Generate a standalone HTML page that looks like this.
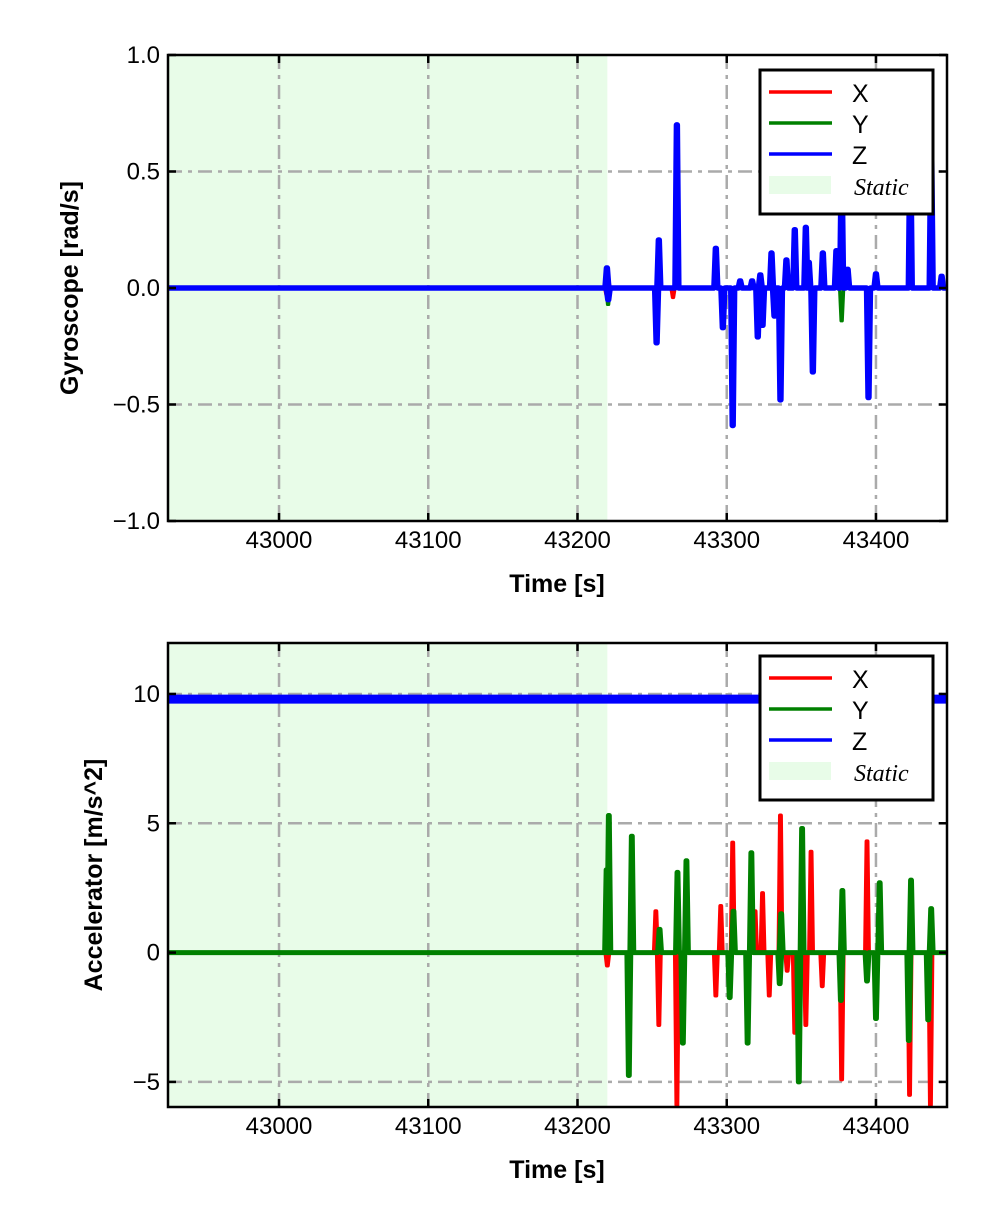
<!DOCTYPE html>
<html><head><meta charset="utf-8"><style>
body{margin:0;background:#fff}
svg{display:block;font-family:"Liberation Sans",sans-serif}
</style></head><body>
<svg id="c" width="992" height="1228" viewBox="0 0 992 1228" xmlns="http://www.w3.org/2000/svg"></svg>
<script>
const xTicks=[43000,43100,43200,43300,43400];
const staticEnd=43220;
const gyroTicks=[1.0,0.5,0.0,-0.5,-1.0];
const gyroTickLabels=["1.0","0.5","0.0","\u22120.5","\u22121.0"];
const accTicks=[10,5,0,-5];
const accTickLabels=["10","5","0","\u22125"];
// gyro spikes [time, value]
const gyroX=[[43219.5,-0.03],[43220.5,0.04],[43264,-0.04]];
const gyroY=[[43220.5,-0.07],[43377,-0.14]];
const gyroZ=[[43219.7,0.086],[43220.6,-0.05],[43253,-0.235],[43254.5,0.206],[43266.6,0.70],[43292.7,0.17],[43297.4,-0.17],[43304,-0.59],[43309,0.03],[43317,0.03],[43320.8,-0.21],[43322.5,0.056],[43324,-0.16],[43330,0.15],[43332,-0.12],[43336,-0.48],[43340,0.12],[43345.6,0.25],[43353,0.26],[43355,0.11],[43357.7,-0.36],[43364.4,0.15],[43373.5,0.16],[43377,0.5],[43381,0.08],[43395,-0.47],[43400,0.06],[43423,0.6],[43437,0.6],[43444,0.05]];
// accel spikes
const accX=[[43220,-0.5],[43252.5,1.6],[43254.5,-2.8],[43266.6,-5.9],[43292.7,-1.66],[43296,1.8],[43304,4.25],[43319,1.6],[43324,2.3],[43328.5,-1.66],[43336,5.3],[43340.5,-0.7],[43345.6,-3.1],[43353,-2.8],[43356.5,3.9],[43364,-1.3],[43377,-4.9],[43394,4.3],[43422.5,-5.5],[43436.5,-5.9]];
const accY=[[43219.5,3.2],[43221,5.3],[43234.4,-4.75],[43236.4,4.5],[43255,0.9],[43267,3.1],[43270.6,-3.5],[43273,3.55],[43302,-1.74],[43304.5,1.6],[43314,-3.5],[43316.5,3.86],[43335.5,-1.2],[43336.5,1.5],[43348.3,-5.0],[43350.5,4.8],[43376.5,-1.85],[43377.5,2.4],[43394,-1.1],[43400,-2.55],[43402.5,2.7],[43422,-3.4],[43423.5,2.8],[43435,-2.6],[43437,1.7]];
const accZlevel=9.8;

const svg=document.getElementById('c');
const NS="http://www.w3.org/2000/svg";
function el(tag,attrs,parent){const e=document.createElementNS(NS,tag);for(const k in attrs)e.setAttribute(k,attrs[k]);(parent||svg).appendChild(e);return e;}
const T0=42925.6,T1=43447.6,L=168,R=947;
const sx=t=>L+(t-T0)/(T1-T0)*(R-L);

function spikePath(spikes,sy,base,hw){
  let d="M"+L+","+sy(base);
  const s=spikes.slice().sort((a,b)=>a[0]-b[0]);
  s.forEach(p=>{d+=" L"+sx(p[0]-hw)+","+sy(base)+" L"+sx(p[0]-0.3)+","+sy(p[1])+" L"+sx(p[0]+0.3)+","+sy(p[1])+" L"+sx(p[0]+hw)+","+sy(base);});
  d+=" L"+R+","+sy(base);
  return d;
}

function panel(top,bot,vmin,vmax,ticks,labels,ytitle,ytitleX,series,legTop,name){
  const sy=v=>bot-(v-vmin)/(vmax-vmin)*(bot-top);
  const g=el('g',{});
  
  
  const clipId=name+'-clip';
  const cp=el('clipPath',{id:clipId},g);el('rect',{x:L,y:top,width:R-L,height:bot-top},cp);
  const st=el('rect',{x:L,y:top,width:sx(staticEnd)-L,height:bot-top,fill:'#e8fce8'},g);
  
  
  xTicks.forEach(t=>{const l=el('line',{x1:sx(t),x2:sx(t),y1:top,y2:bot,stroke:'#aaaaaa','stroke-width':2.5,'stroke-dasharray':'14,6,4,6'},g);
    
    });
  ticks.forEach(v=>{if(v<=vmin||v>=vmax)return;const l=el('line',{x1:L,x2:R,y1:sy(v),y2:sy(v),stroke:'#aaaaaa','stroke-width':2.5,'stroke-dasharray':'14,6,4,6'},g);
    
    });
  const cg=el('g',{'clip-path':'url(#'+clipId+')'},g);
  series.forEach(s=>{const p=el('path',{d:spikePath(s.data,sy,s.base,s.hw||1.3),fill:'none',stroke:s.color,'stroke-width':s.w,'stroke-linejoin':'round'},cg);
    
    });
  const fr=el('rect',{x:L,y:top,width:R-L,height:bot-top,fill:'none',stroke:'#000','stroke-width':2.5},g);
  
  
  xTicks.forEach(t=>{el('line',{x1:sx(t),x2:sx(t),y1:bot,y2:bot-8,stroke:'#000','stroke-width':2.5},g);el('line',{x1:sx(t),x2:sx(t),y1:top,y2:top+8,stroke:'#000','stroke-width':2.5},g);
    const tx=el('text',{x:sx(t),y:bot+27,'font-size':24,'text-anchor':'middle'},g);tx.textContent=t;
    
    });
  ticks.forEach((v,i)=>{el('line',{x1:L,x2:L+8,y1:sy(v),y2:sy(v),stroke:'#000','stroke-width':2.5},g);el('line',{x1:R,x2:R-8,y1:sy(v),y2:sy(v),stroke:'#000','stroke-width':2.5},g);
    const tx=el('text',{x:160,y:sy(v)+8,'font-size':24,'text-anchor':'end'},g);tx.textContent=labels[i];
    
    });
  const xt=el('text',{x:557,y:bot+71,'font-size':25,'font-weight':'bold','text-anchor':'middle'},g);xt.textContent='Time [s]';
  
  
  const ym=(top+bot)/2;
  const yt=el('text',{x:ytitleX,y:ym,'font-size':25,'font-weight':'bold','text-anchor':'middle',transform:'rotate(-90 '+ytitleX+' '+ym+')'},g);yt.textContent=ytitle;
  
  
  const lg=el('g',{},g);
  
  
  el('rect',{x:760,y:legTop,width:173,height:144,fill:'#fff',stroke:'#000','stroke-width':3},lg);
  const ents=[['X','#ff0000'],['Y','#008000'],['Z','#0000ff']];
  ents.forEach((e,i)=>{const yy=legTop+22+i*31;
    const le=el('line',{x1:769,x2:832,y1:yy,y2:yy,stroke:e[1],'stroke-width':3.5},lg);
    
    
    const t=el('text',{x:852,y:yy+10,'font-size':25},lg);t.textContent=e[0];
    
    });
  el('rect',{x:769,y:legTop+106,width:62,height:18,fill:'#e8fce8'},lg);
  const stt=el('text',{x:854,y:legTop+125,'font-size':24,'font-style':'italic','font-family':'Liberation Serif, serif'},lg);stt.textContent='Static';
  
  
}

panel(55,521,-1,1,gyroTicks,gyroTickLabels,'Gyroscope [rad/s]',78,[
  {data:gyroX,color:'#ff0000',w:3.5,base:0,name:'gyro-x-line'},
  {data:gyroY,color:'#008000',w:3.5,base:0,name:'gyro-y-line'},
  {data:gyroZ,color:'#0000ff',w:5.5,base:0,name:'gyro-z-line'}],70,'gyroscope-panel');
panel(643,1107,-5.97,11.97,accTicks,accTickLabels,'Accelerator [m/s^2]',102,[
  {data:[],color:'#0000ff',w:9,base:accZlevel,name:'acc-z-line'},
  {data:accX,color:'#ff0000',w:4,base:0,name:'acc-x-line'},
  {data:accY,color:'#008000',w:5,base:0,name:'acc-y-line'}],656,'accelerator-panel');
</script>
</body></html>
